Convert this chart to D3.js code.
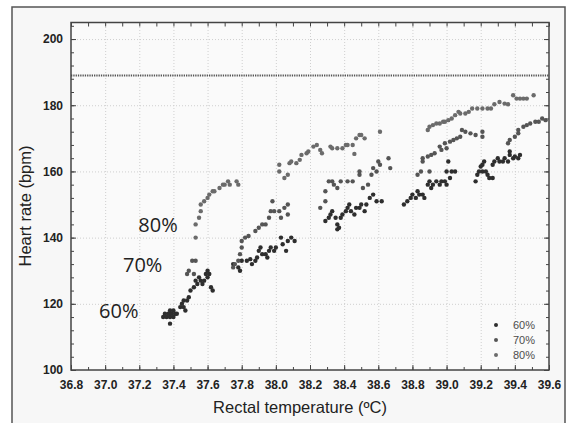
<!DOCTYPE html>
<html>
<head>
<meta charset="utf-8">
<script src="https://cdn.jsdelivr.net/npm/d3@7"></script>
<style>
  body { margin: 0; background: #fff; }
  svg { display: block; }
  .tick text { font-family: "Liberation Sans", Arial, sans-serif; font-weight: bold; font-size: 12px; fill: #222; }
</style>
</head>
<body>
<div id="chart"></div>
<script>
// heart rate vs rectal temperature, three intensity groups
// each point is [temperature (ºC), heart rate (bpm)]

const groups = ["60%", "70%", "80%"];

const sixty = [
  [37.34,116],[37.35,117],[37.36,116],[37.37,117],[37.38,116],[37.38,118],[37.39,117],[37.40,116],
  [37.40,118],[37.41,117],[37.42,117],[37.38,114],[37.44,119],[37.45,120],[37.46,119],[37.46,121],
  [37.47,118],[37.48,121],[37.49,122],[37.50,124],[37.52,125],[37.53,127],[37.54,126],[37.55,128],
  [37.56,127],[37.57,126],[37.58,127],[37.59,129],[37.60,130],[37.60,128],[37.61,129],[37.62,125],[37.63,124],
  [37.75,132],[37.78,131],[37.79,130],[37.80,133],[37.83,133],[37.85,133.5],[37.86,132],[37.88,133],
  [37.89,134],[37.90,136],[37.91,137],[37.92,135],[37.94,135],[37.95,134],[37.96,136],[37.97,137],
  [37.99,136],[38.00,137],[38.03,140],[38.04,138],[38.06,136],[38.07,139],[38.09,140],[38.11,139],
  [38.29,145],[38.31,146],[38.32,147],[38.33,148],[38.35,146],[38.36,144],[38.36,142.5],[38.37,143],
  [38.38,146],[38.39,147],[38.41,148],[38.42,149],[38.43,150],[38.44,148],[38.46,147],[38.47,149],
  [38.49,149],[38.50,150],[38.52,148],[38.53,150],[38.55,152],[38.57,153],[38.59,151],[38.62,151],
  [38.75,150],[38.77,151],[38.79,152],[38.80,153],[38.82,152],[38.83,154],[38.84,153],[38.86,153],
  [38.87,152],[38.89,156],[38.90,157],[38.91,155],[38.92,156],[38.94,157],[38.96,156],[38.97,157],
  [38.99,157],[39.00,156],[39.02,158],[39.03,160],[39.05,160],[39.00,160],[39.01,163],
  [39.17,157],[39.18,159],[39.19,160],[39.20,161.5],[39.21,162],[39.22,163],[39.21,160],[39.23,160],
  [39.24,159],[39.25,158],[39.27,158],[39.27,162],[39.28,163],[39.30,164],[39.31,163],[39.33,163],
  [39.34,164],[39.36,163],[39.37,165],[39.37,166],[39.39,164],[39.40,164.5],[39.42,164],[39.43,165]
];

const seventy = [
  [37.48,129],[37.49,130],[37.51,133],[37.52,129],[37.53,133],
  [37.75,131],[37.76,132],[37.78,133],[37.79,135],[37.80,137],[37.80,139],[37.82,140],[37.84,140.5],
  [37.88,142],[37.90,143],[37.92,144],[37.94,144],[37.96,146],[37.97,148],[37.98,151],[37.99,148],
  [38.02,148],[38.03,146],[38.05,149],[38.07,150],[38.07,147],
  [38.26,149],[38.29,151],[38.29,154],[38.31,157],[38.33,157],[38.34,156],[38.36,155],[38.38,157],
  [38.42,157],[38.45,157],[38.49,159],[38.49,160],[38.51,155],[38.54,156],[38.56,159],[38.57,161],
  [38.59,160],[38.61,162],[38.60,163],[38.66,164],[38.67,161],
  [38.83,159],[38.85,160],[38.86,163],[38.86,164],[38.89,164.5],[38.90,160],[38.91,165],[38.93,165.5],
  [38.96,167.5],[38.97,166.5],[38.99,168.5],[39.00,167],[39.02,169],[39.04,169.5],[39.06,170],
  [39.08,170.5],[39.09,172.5],[39.11,172],[39.14,171.5],[39.17,171],[39.21,172],[39.21,170.5],
  [39.36,168.5],[39.37,169.5],[39.40,170.5],[39.42,172.5],[39.42,171.5],[39.45,173.5],[39.47,174],
  [39.49,174.5],[39.52,175],[39.54,175],[39.56,176],[39.58,175.5]
];

const eighty = [
  [37.53,140],[37.53,144],[37.55,146],[37.56,148],[37.56,150],[37.58,151],[37.60,152],[37.61,153],
  [37.63,154],[37.64,154],[37.67,155],[37.69,156],[37.70,156],[37.72,157],[37.73,156],[37.77,157],[37.78,156],
  [38.02,162],[38.02,160],[38.05,158],[38.07,159],[38.08,162.5],[38.09,163],[38.12,162.5],[38.14,163.5],
  [38.15,165],[38.18,165.5],[38.19,166],[38.22,167.5],[38.24,168],[38.26,166.5],[38.27,165.5],
  [38.32,167.5],[38.33,167],[38.36,167],[38.39,167],[38.41,168],[38.42,168],[38.45,168],[38.46,165.3],
  [38.47,170],[38.49,171],[38.50,171],[38.52,170],[38.61,172],
  [38.89,172.5],[38.90,173.5],[38.92,174],[38.94,174.5],[38.96,174.5],[38.98,175],[38.99,175],
  [39.01,175.5],[39.03,176],[39.05,177],[39.07,178],[39.08,177.5],[39.11,177.5],[39.13,178],
  [39.15,179],[39.18,179],[39.21,179],[39.24,179],[39.26,179],[39.28,180.3],[39.31,181],[39.34,180.5],
  [39.36,180.3],[39.39,183],[39.41,182],[39.43,182],[39.45,182],[39.47,182],[39.51,183]
];

const xTicks = [36.8,37.0,37.2,37.4,37.6,37.8,38.0,38.2,38.4,38.6,38.8,39.0,39.2,39.4,39.6];
const yTicks = [100,120,140,160,180,200];
const refLine = 189;
// annotation text anchored in data units (temperature, heart rate)
const notes = [["80%",37.31,141.7],["70%",37.22,129.6],["60%",37.08,115.7]];

const W = 571, H = 423;
const plotL = 71, plotR = 549, plotT = 22.5, plotB = 370;

const svg = d3.select("#chart").append("svg")
    .attr("width", W)
    .attr("height", H);

// outer frame
svg.append("rect")
    .attr("x", 12).attr("y", 7)
    .attr("width", 553).attr("height", 430)
    .attr("fill", "#f7f7f7")
    .attr("stroke", "#555")
    .attr("stroke-width", 1.5);

const x = d3.scaleLinear().domain([36.8, 39.6]).range([plotL, plotR]);
const y = d3.scaleLinear().domain([100, 205]).range([plotB, plotT]);
const color = d3.scaleOrdinal().domain(groups).range(["#2e2e2e", "#555555", "#6b6b6b"]);

svg.append("rect")
    .attr("x", plotL).attr("y", plotT)
    .attr("width", plotR-plotL).attr("height", plotB-plotT)
    .attr("fill", "#fafafa");

// grid
const gx = svg.append("g")
    .attr("transform", "translate(0," + plotB + ")")
    .call(d3.axisBottom(x).tickValues(xTicks.slice(1, -1)).tickSize(-(plotB-plotT)).tickFormat(""));
const gy = svg.append("g")
    .attr("transform", "translate(" + plotL + ",0)")
    .call(d3.axisLeft(y).tickValues(yTicks.slice(1)).tickSize(-(plotR-plotL)).tickFormat(""));
[gx, gy].forEach(g => {
    g.select(".domain").remove();
    g.selectAll("line").attr("stroke", "#cfcfcf").attr("stroke-dasharray", "1,2");
});

// reference line
svg.append("line")
    .attr("x1", plotL).attr("x2", plotR)
    .attr("y1", y(refLine)).attr("y2", y(refLine))
    .attr("stroke", "#555")
    .attr("stroke-width", 2)
    .attr("stroke-dasharray", "1.3,1");

// points
const series = [sixty, seventy, eighty];
series.forEach((pts, i) => {
    svg.append("g").selectAll("circle")
        .data(pts)
        .enter()
        .append("circle")
        .attr("cx", d => x(d[0]))
        .attr("cy", d => y(d[1]))
        .attr("r", 2.2)
        .attr("fill", color(groups[i]));
});

// axes, ticks pointing inwards
const xMinor = d3.range(36.8, 39.65, 0.1);
const yMinor = d3.range(100, 205, 4);

function tidy(g) {
    g.select(".domain").remove();
    g.selectAll("line").attr("stroke", "#444");
}
svg.append("g").attr("transform", "translate(0," + plotB + ")")
    .call(d3.axisBottom(x).tickValues(xMinor).tickSize(-3).tickFormat("")).call(tidy);
svg.append("g").attr("transform", "translate(0," + plotT + ")")
    .call(d3.axisTop(x).tickValues(xMinor).tickSize(-4).tickFormat("")).call(tidy);
svg.append("g").attr("transform", "translate(" + plotL + ",0)")
    .call(d3.axisLeft(y).tickValues(yMinor).tickSize(-3).tickFormat("")).call(tidy);
svg.append("g").attr("transform", "translate(" + plotR + ",0)")
    .call(d3.axisRight(y).tickValues(yMinor).tickSize(-3).tickFormat("")).call(tidy);

svg.append("g").attr("transform", "translate(0," + plotB + ")")
    .call(d3.axisBottom(x).tickValues(xTicks).tickSize(-5).tickPadding(10).tickFormat(d3.format(".1f")))
    .call(tidy);
svg.append("g").attr("transform", "translate(" + plotL + ",0)")
    .call(d3.axisLeft(y).tickValues(yTicks).tickSize(-5).tickPadding(8))
    .call(tidy);
svg.append("g").attr("transform", "translate(" + plotR + ",0)")
    .call(d3.axisRight(y).tickValues(yTicks).tickSize(-5).tickFormat(""))
    .call(tidy);

// plot frame
svg.append("rect")
    .attr("x", plotL).attr("y", plotT)
    .attr("width", plotR-plotL).attr("height", plotB-plotT)
    .attr("fill", "none")
    .attr("stroke", "#444")
    .attr("stroke-width", 1.5);

// titles
svg.append("text")
    .attr("x", 300).attr("y", 413)
    .attr("text-anchor", "middle")
    .attr("font-family", "Liberation Sans, Arial, sans-serif")
    .attr("font-size", 16.5)
    .attr("fill", "#222")
    .text("Rectal temperature (ºC)");

svg.append("text")
    .attr("transform", "translate(31,206) rotate(-90)")
    .attr("text-anchor", "middle")
    .attr("font-family", "Liberation Sans, Arial, sans-serif")
    .attr("font-size", 16.5)
    .attr("fill", "#222")
    .text("Heart rate (bpm)");

// percentage annotations
svg.selectAll(".note")
    .data(notes)
    .enter()
    .append("text")
    .attr("x", d => x(d[1]))
    .attr("y", d => y(d[2]))
    .attr("text-anchor", "middle")
    .attr("font-family", "Open Sans, sans-serif")
    .attr("font-size", 20)
    .attr("fill", "#222")
    .text(d => d[0]);

// legend
const legend = svg.append("g").selectAll("g")
    .data(groups)
    .enter()
    .append("g")
    .attr("transform", (d, i) => "translate(496," + (325 + i*15) + ")");
legend.append("circle").attr("r", 2).attr("fill", d => color(d));
legend.append("text")
    .attr("x", 17).attr("y", 4)
    .attr("font-family", "Liberation Sans, Arial, sans-serif")
    .attr("font-size", 11)
    .attr("fill", "#4d4d4d")
    .text(d => d);
</script>
</body>
</html>
